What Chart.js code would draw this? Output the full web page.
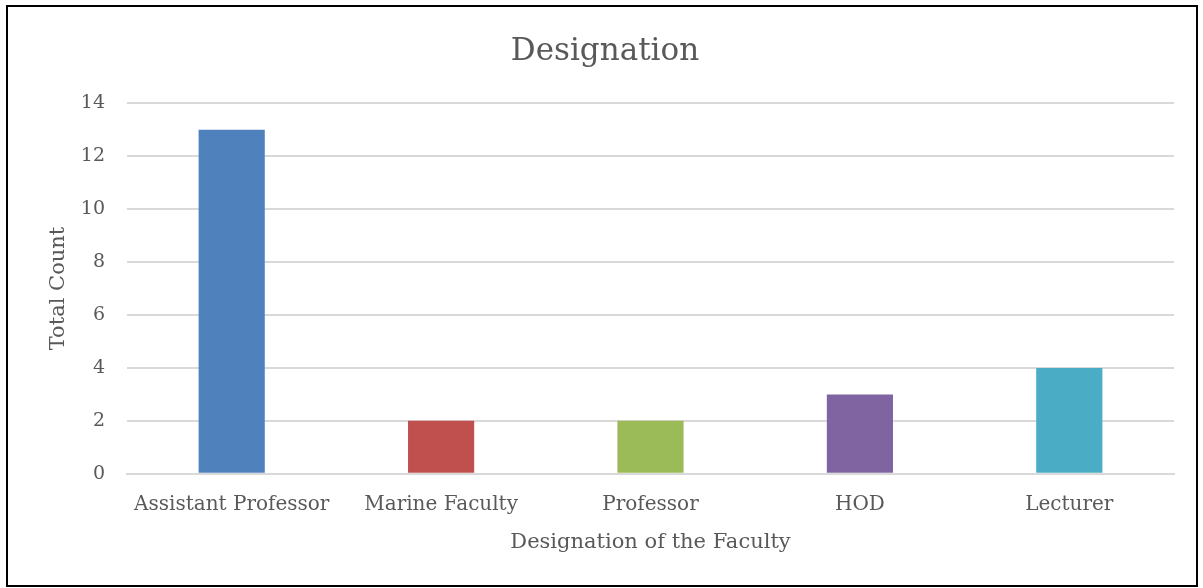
<!DOCTYPE html>
<html><head><meta charset="utf-8">
<script src="https://cdn.jsdelivr.net/npm/chart.js@4"></script>
<style>
html,body{margin:0;padding:0;background:#fff;width:1203px;height:588px;overflow:hidden}
#wrap{position:absolute;left:6px;top:5px;width:1192px;height:582px;border:2px solid #000;box-sizing:border-box}
#c{display:block}
</style></head><body>
<div id="wrap"><canvas id="c" width="1188" height="578"></canvas></div>
<script>
const categories = ["Assistant Professor","Marine Faculty","Professor","HOD","Lecturer"];
const counts = [13, 2, 2, 3, 4];
const barColors = ["#4F81BD","#C0504D","#9BBB59","#8064A2","#4BACC6"];
const yTicks = [0,2,4,6,8,10,12,14];
const serif = "'DejaVu Serif', 'Liberation Serif', serif";
const grey = "#595959";
new Chart(document.getElementById('c'), {
  type: 'bar',
  data: { labels: categories, datasets: [{ label: 'Total Count', data: counts, backgroundColor: barColors, barPercentage: 1, categoryPercentage: 0.316 }] },
  options: {
    responsive: false, animation: false,
    layout: { padding: { left: 28, right: 22, top: 26, bottom: 30 } },
    plugins: {
      legend: { display: false }, tooltip: { enabled: false },
      title: { display: true, text: 'Designation', color: grey, font: { family: serif, size: 31, weight: 'normal' }, padding: { top: 0, bottom: 33 } }
    },
    scales: {
      x: {
        grid: { display: false, drawTicks: false },
        border: { display: true, color: '#d9d9d9', width: 2 },
        ticks: { color: grey, font: { family: serif, size: 20 }, padding: 19, maxRotation: 0 },
        title: { display: true, text: 'Designation of the Faculty', color: grey, font: { family: serif, size: 21 }, padding: { top: -6, bottom: 0 } }
      },
      y: {
        min: 0, max: 14,
        afterBuildTicks: s => { s.ticks = yTicks.map(v => ({ value: v })); },
        afterFit: s => { s.width = 91; },
        grid: { color: '#d9d9d9', lineWidth: 2, drawTicks: false },
        border: { display: false },
        ticks: { color: grey, font: { family: serif, size: 19 }, padding: 22 },
        title: { display: true, text: 'Total Count', color: grey, font: { family: serif, size: 21 }, padding: { top: 10, bottom: 8 } }
      }
    }
  }
});
</script></body></html>
